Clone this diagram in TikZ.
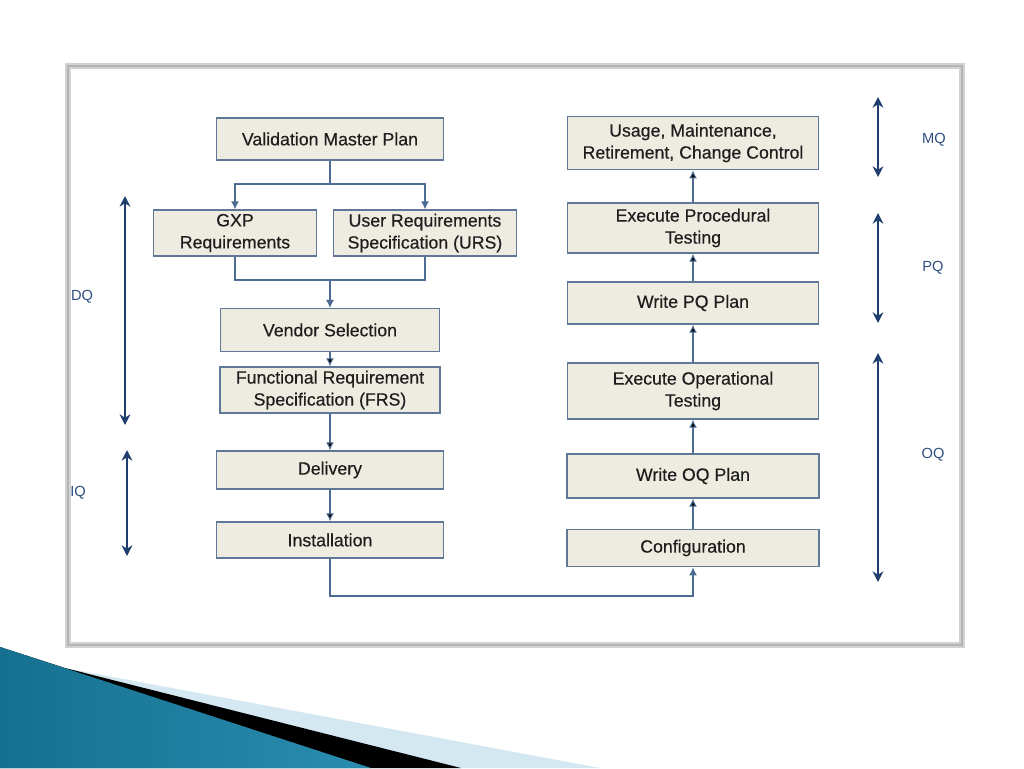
\documentclass[tikz,border=0pt]{standalone}
\usepackage{fontspec}
\setmainfont{Liberation Sans}
\newfontfamily\stagefont[FakeBold=0.4]{Liberation Sans}
\usepackage{xcolor}
\usepackage{tikz}
\usetikzlibrary{arrows,arrows.meta,shapes.misc,positioning}

\definecolor{boxfill}{HTML}{EEEBE1}
\definecolor{boxline}{HTML}{5F7897}
\definecolor{linkblue}{HTML}{4C6C93}
\definecolor{phaseblue}{HTML}{1F3E6E}
\definecolor{tagblue}{HTML}{2F4F7F}
\definecolor{textdark}{HTML}{1E1E1E}
\definecolor{frameshade}{HTML}{D2D2D2}
\definecolor{frameline}{HTML}{B4B4B4}
\definecolor{wedgedark}{HTML}{15708F}
\definecolor{wedgelight}{HTML}{56B6D9}
\definecolor{wedgemid}{HTML}{2A8DB0}
\definecolor{lightwedge}{HTML}{D3E8F0}

\begin{document}
\begin{tikzpicture}[x=0.75pt, y=-0.75pt,
  stage/.style={draw=boxline, line width=1.1pt, fill=boxfill, inner sep=0pt, align=center,
    font=\stagefont\fontsize{13.3}{16.5}\selectfont, text=textdark},
  link/.style={draw=linkblue, line width=0.8pt, ->, >={Latex[length=6pt,width=6pt]}},
  phase/.style={draw=phaseblue, line width=2.2pt, <->, >={Stealth[length=8pt,width=8pt]}},
  tag/.style={font=\fontsize{11}{13}\selectfont, text=tagblue}]
\useasboundingbox (0,0) rectangle (1024,768);

% frame and corner wedge
\draw[line width=5pt, color=frameshade] (68,66) rectangle (962,645);
\draw[line width=2pt, color=frameline] (68,66) rectangle (962,645);
\fill[lightwedge] (0,647) -- (65,668) -- (600,768) -- (0,768) -- cycle;
\fill[black] (0,647) -- (65,668) -- (461,768) -- (0,768) -- cycle;
\shade[left color=wedgedark, middle color=wedgelight, right color=wedgemid]
  (0,647) -- (371,768) -- (0,768) -- cycle;

% left column
\node (vmp) [stage, minimum width=170pt, minimum height=31.5pt] at (330,139) {Validation Master Plan};
\node (gxp) [stage, minimum width=122pt, minimum height=34.5pt] at (235,233) {GXP\\Requirements};
\node (urs) [stage, minimum width=137pt, minimum height=34.5pt] at (425,233) {User Requirements\\Specification (URS)};
\node (vendor) [stage, minimum width=164pt, minimum height=32pt] at (330,330) {Vendor Selection};
\node (frs) [stage, minimum width=165pt, minimum height=34.5pt, below of=vendor, node distance=45pt] {Functional Requirement\\Specification (FRS)};
\node (delivery) [stage, minimum width=170pt, minimum height=28.5pt, below of=frs, node distance=60pt] {Delivery};
\node (install) [stage, minimum width=170pt, minimum height=27pt, below of=delivery, node distance=52.5pt] {Installation};

% right column
\node (config) [stage, minimum width=189pt, minimum height=28pt] at (693,548) {Configuration};
\node (woq) [stage, minimum width=189pt, minimum height=33pt, above of=config, node distance=54pt] {Write OQ Plan};
\node (exop) [stage, minimum width=188pt, minimum height=42pt, above of=woq, node distance=63.75pt] {Execute Operational\\Testing};
\node (wpq) [stage, minimum width=188pt, minimum height=31.5pt, above of=exop, node distance=66pt] {Write PQ Plan};
\node (exproc) [stage, minimum width=188pt, minimum height=37.5pt, above of=wpq, node distance=56.25pt] {Execute Procedural\\Testing};
\node (usage) [stage, minimum width=188pt, minimum height=40pt, above of=exproc, node distance=63.75pt] {Usage, Maintenance,\\Retirement, Change Control};

% connectors
\coordinate (split) at (330,184);
\coordinate (merge) at (330,280);
\coordinate (turn) at (330,596);
\draw[link, -] (vmp) -- (split);
\draw[link] (split) -| (gxp.north);
\draw[link] (split) -| (urs.north);
\draw[link, -] (gxp.south) |- (merge) -| (urs.south);
\draw[link] (merge) -- (vendor);
\path[link] (vendor) edge (frs);
\path[link] (frs) edge (delivery);
\path[link] (delivery) edge (install);
\draw[link] (install) -- (turn) -| (config.south);
\path[link] (config) edge (woq);
\path[link] (woq) edge (exop);
\path[link] (exop) edge (wpq);
\path[link] (wpq) edge (exproc);
\path[link] (exproc) edge (usage);

% phases
\coordinate (dqtop) at (125,196);
\coordinate (dqbot) at (125,425);
\coordinate (iqtop) at (127,450);
\coordinate (iqbot) at (127,556);
\coordinate (mqtop) at (878,97);
\coordinate (mqbot) at (878,177);
\coordinate (pqtop) at (878,213);
\coordinate (pqbot) at (878,323);
\coordinate (oqtop) at (878,353);
\coordinate (oqbot) at (878,582);
\draw[phase] (dqtop) -- (dqbot);
\draw[phase] (iqtop) -- (iqbot);
\draw[phase] (mqtop) -- (mqbot);
\draw[phase] (pqtop) -- (pqbot);
\draw[phase] (oqtop) -- (oqbot);
\node (dq) [tag] at (82,297) {DQ};
\node (iq) [tag] at (78,493) {IQ};
\node (mq) [tag] at (934,140) {MQ};
\node (pq) [tag] at (933,268) {PQ};
\node (oq) [tag] at (933,455) {OQ};
\end{tikzpicture}
\end{document}
